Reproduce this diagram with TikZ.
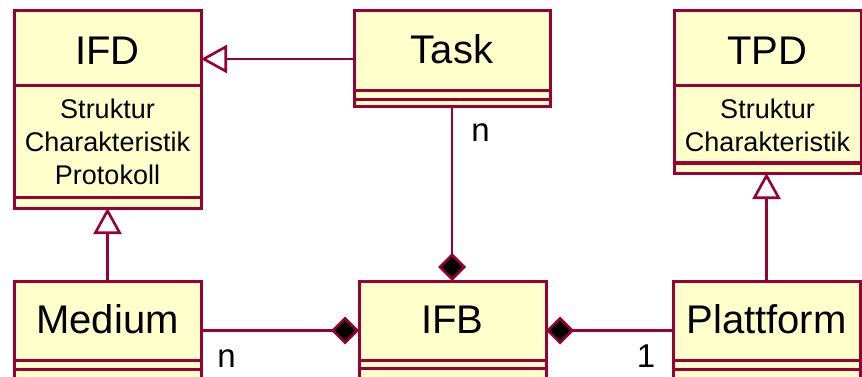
\documentclass[tikz,border=0pt]{standalone}
\usepackage{fontspec}
\setmainfont{Liberation Sans}
\usetikzlibrary{arrows.meta}
\definecolor{umlline}{HTML}{990033}
\definecolor{umlfill}{HTML}{FFFFCC}

\begin{document}
\begin{tikzpicture}[x=1pt,y=-1pt,
  box/.style={draw=umlline, fill=umlfill, line width=3pt, rectangle,
              inner sep=0pt, outer sep=0pt},
  sep/.style={draw=umlline, line width=3pt},
  title/.style={font=\fontsize{40}{48}\selectfont, inner sep=0pt, anchor=base},
  attr/.style={font=\fontsize{27}{32}\selectfont, inner sep=0pt, anchor=base},
  mult/.style={font=\fontsize{33}{40}\selectfont, inner sep=0pt, anchor=base},
  conn/.style={draw=umlline, line width=2.6pt},
  inherit/.style={-{Triangle[open, length=26pt, width=28pt]}},
  compose/.style={-{Diamond[fill=black, length=28pt, width=28pt]}}
]
\useasboundingbox (0,0) rectangle (862,377);
\clip (0,0) rectangle (862,377);

% ---------- class boxes ----------
% IFD
\node[box, minimum width=187pt, minimum height=197pt] (IFD) at (107.5,109.5) {};
\draw[sep] (IFD.west |- 0,86) -- (IFD.east |- 0,86);
\draw[sep] (IFD.west |- 0,197) -- (IFD.east |- 0,197);
\node[title] (IFDname) at (107.5,65) {IFD};
\node[attr] (IFDa1) at (107.5,119) {Struktur};
\node[attr] (IFDa2) at (107.5,152) {Charakteristik};
\node[attr] (IFDa3) at (107.5,184) {Protokoll};

% Task
\node[box, minimum width=196pt, minimum height=96pt] (Task) at (452,59) {};
\draw[sep] (Task.west |- 0,91) -- (Task.east |- 0,91);
\draw[sep] (Task.west |- 0,100) -- (Task.east |- 0,100);
\node[title] (Taskname) at (452,63.5) {Task};

% TPD
\node[box, minimum width=187pt, minimum height=162pt] (TPD) at (767.5,92) {};
\draw[sep] (TPD.west |- 0,86) -- (TPD.east |- 0,86);
\draw[sep] (TPD.west |- 0,163) -- (TPD.east |- 0,163);
\node[title] (TPDname) at (767.5,65) {TPD};
\node[attr] (TPDa1) at (767.5,119) {Struktur};
\node[attr] (TPDa2) at (767.5,152) {Charakteristik};

% Medium
\node[box, minimum width=187pt, minimum height=99pt] (Medium) at (107.5,330.5) {};
\draw[sep] (Medium.west |- 0,360) -- (Medium.east |- 0,360);
\draw[sep] (Medium.west |- 0,369) -- (Medium.east |- 0,369);
\node[title] (Mediumname) at (107.5,333) {Medium};

% IFB
\node[box, minimum width=187pt, minimum height=99pt] (IFB) at (452.5,330.5) {};
\draw[sep] (IFB.west |- 0,360) -- (IFB.east |- 0,360);
\draw[sep] (IFB.west |- 0,368) -- (IFB.east |- 0,368);
\node[title] (IFBname) at (452.5,333) {IFB};

% Plattform
\node[box, minimum width=187pt, minimum height=99pt] (Plattform) at (766.5,330.5) {};
\draw[sep] (Plattform.west |- 0,360) -- (Plattform.east |- 0,360);
\draw[sep] (Plattform.west |- 0,369) -- (Plattform.east |- 0,369);
\node[title] (Plattformname) at (766.5,333) {Plattform};

% ---------- relations ----------
\draw[conn, inherit] (Task.west) -- (Task.west -| IFD.east);
\draw[conn, inherit] (Medium.north) -- (IFD.south);
\draw[conn, inherit] (Plattform.north) -- (Plattform.north |- TPD.south);
\draw[conn, compose] (Task.south) -- (Task.south |- IFB.north);
\draw[conn, compose] (Medium.east) -- (IFB.west);
\draw[conn, compose] (Plattform.west) -- (IFB.east);

% multiplicities
\node[mult] (mTask) at (480.5,142) {n};
\node[mult] (mMedium) at (226.5,367) {n};
\node[mult] (mPlattform) at (646,367) {1};
\end{tikzpicture}
\end{document}
